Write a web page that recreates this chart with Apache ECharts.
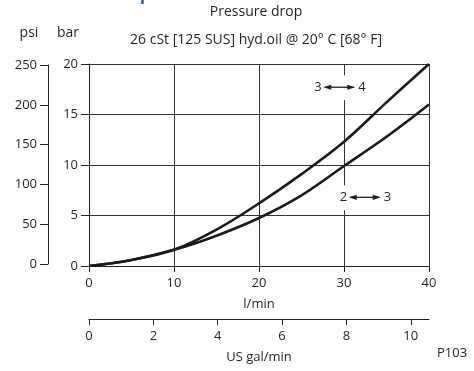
<!DOCTYPE html>
<html>
<head>
<meta charset="utf-8">
<script src="https://cdn.jsdelivr.net/npm/echarts@6/dist/echarts.min.js"></script>
<style>
html,body{margin:0;padding:0;background:#fff;}
#c{width:474px;height:371px;}
</style>
</head>
<body>
<div id="c"></div>
<script>
// ---- data ----
var flowLpm = [0, 5, 10, 15, 20, 25, 30, 35, 40];
var dp34 = [0, 0.6, 1.6, 3.6, 6.2, 9.1, 12.3, 16.2, 20.0];
var dp23 = [0, 0.6, 1.6, 3.0, 4.75, 7.0, 9.9, 12.8, 16.0];
var label34 = ['3', '4'];
var label23 = ['2', '3'];
var label34Pos = [26.5, 17.7];
var label23Pos = [29.5, 6.8];
var titleText = 'Pressure drop';
var subtitleText = '26 cSt [125 SUS] hyd.oil @ 20\u00b0 C [68\u00b0 F]';
var LPM_PER_GAL = 3.785411784;

var FONT = 'Open Sans';
var INK = '#231f20';

function pairs(xs, ys) { return xs.map(function (x, i) { return [x, ys[i]]; }); }

var chart = echarts.init(document.getElementById('c'), null, { renderer: 'canvas' });

var axisText = { color: INK, fontFamily: FONT, fontSize: 13 };

var option = {
  animation: false,
  backgroundColor: '#fff',
  grid: [
    { left: 89, right: 45, top: 64, bottom: 105 },
    { left: 48, width: 1, top: 65, bottom: 107 }
  ],
  xAxis: [
    {
      type: 'value', gridIndex: 0, min: 0, max: 40, interval: 10,
      axisLine: { show: true, lineStyle: { color: INK, width: 1 } },
      axisTick: { show: true, length: 6, lineStyle: { color: INK } },
      axisLabel: Object.assign({ margin: 11 }, axisText),
      splitLine: { show: true, lineStyle: { color: '#333', width: 1 } },
      name: 'l/min', nameLocation: 'middle', nameGap: 32,
      nameTextStyle: axisText
    },
    {
      type: 'value', gridIndex: 0, position: 'bottom', offset: 53,
      min: 0, max: 40 / LPM_PER_GAL, interval: 2,
      axisLine: { show: true, onZero: false, lineStyle: { color: INK, width: 1 } },
      axisTick: { show: true, length: 6, lineStyle: { color: INK } },
      axisLabel: Object.assign({ margin: 11, showMaxLabel: false }, axisText),
      splitLine: { show: false },
      name: 'US gal/min', nameLocation: 'middle', nameGap: 32,
      nameTextStyle: axisText
    },
    {
      type: 'value', gridIndex: 1, min: 0, max: 1, show: false
    }
  ],
  yAxis: [
    {
      type: 'value', gridIndex: 0, min: 0, max: 20, interval: 5,
      axisLine: { show: true, lineStyle: { color: INK, width: 1 } },
      axisTick: { show: true, length: 8, lineStyle: { color: INK } },
      axisLabel: Object.assign({ margin: 11 }, axisText),
      splitLine: { show: true, lineStyle: { color: '#333', width: 1 } }
    },
    {
      type: 'value', gridIndex: 1, min: 0, max: 250, interval: 50,
      axisLine: { show: true, lineStyle: { color: INK, width: 1 } },
      axisTick: { show: true, length: 8, lineStyle: { color: INK } },
      axisLabel: Object.assign({ margin: 11 }, axisText),
      splitLine: { show: false }
    }
  ],
  series: [
    {
      type: 'line', xAxisIndex: 0, yAxisIndex: 0, smooth: 0.35,
      data: pairs(flowLpm, dp34), showSymbol: false, symbol: 'none',
      lineStyle: { color: '#1a1a1a', width: 2.6 }, z: 5
    },
    {
      type: 'line', xAxisIndex: 0, yAxisIndex: 0, smooth: 0.35,
      data: pairs(flowLpm, dp23), showSymbol: false, symbol: 'none',
      lineStyle: { color: '#1a1a1a', width: 2.6 }, z: 5
    }
  ]
};
chart.setOption(option);

function arrowLabel(pos, txt) {
  var p = chart.convertToPixel({ xAxisIndex: 0, yAxisIndex: 0 }, pos);
  var x0 = p[0], y = p[1];
  var a0 = x0 + 9, a1 = x0 + 41;
  var head = 8, hw = 2.6;
  return [
    { type: 'rect', shape: { x: x0 - 3, y: y - 12, width: 58, height: 25 }, style: { fill: '#fff' }, z: 20 },
    { type: 'text', x: x0, y: y, style: { text: txt[0], fill: INK, font: '13px "' + FONT + '"', textVerticalAlign: 'middle', textAlign: 'left' }, z: 21 },
    { type: 'line', shape: { x1: a0 + 2, y1: y, x2: a1 - 2, y2: y }, style: { stroke: INK, lineWidth: 1.3 }, z: 21 },
    { type: 'polygon', shape: { points: [[a0, y], [a0 + head, y - hw], [a0 + head, y + hw]] }, style: { fill: INK }, z: 21 },
    { type: 'polygon', shape: { points: [[a1, y], [a1 - head, y - hw], [a1 - head, y + hw]] }, style: { fill: INK }, z: 21 },
    { type: 'text', x: a1 + 3, y: y, style: { text: txt[1], fill: INK, font: '13px "' + FONT + '"', textVerticalAlign: 'middle', textAlign: 'left' }, z: 21 }
  ];
}

var g = [];
g.push({ type: 'text', x: 256, y: 12, style: { text: titleText, fill: INK, font: '14px "' + FONT + '"', textAlign: 'center', textVerticalAlign: 'middle' } });
g.push({ type: 'text', x: 256, y: 40, style: { text: subtitleText, fill: INK, font: '14px "' + FONT + '"', textAlign: 'center', textVerticalAlign: 'middle' } });
g.push({ type: 'text', x: 29, y: 33, style: { text: 'psi', fill: INK, font: '14px "' + FONT + '"', textAlign: 'center', textVerticalAlign: 'middle' } });
g.push({ type: 'text', x: 68, y: 33, style: { text: 'bar', fill: INK, font: '14px "' + FONT + '"', textAlign: 'center', textVerticalAlign: 'middle' } });
g.push({ type: 'text', x: 437, y: 353, style: { text: 'P103', fill: INK, font: '13px "' + FONT + '"', textAlign: 'left', textVerticalAlign: 'middle' } });
g.push({ type: 'text', x: 140, y: 3, style: { text: 'p', fill: '#1a5aa6', font: 'bold 16px "' + FONT + '"', textAlign: 'left', textVerticalAlign: 'bottom' } });
g = g.concat(arrowLabel(label34Pos, label34), arrowLabel(label23Pos, label23));
chart.setOption({ graphic: g });
</script>
</body>
</html>
